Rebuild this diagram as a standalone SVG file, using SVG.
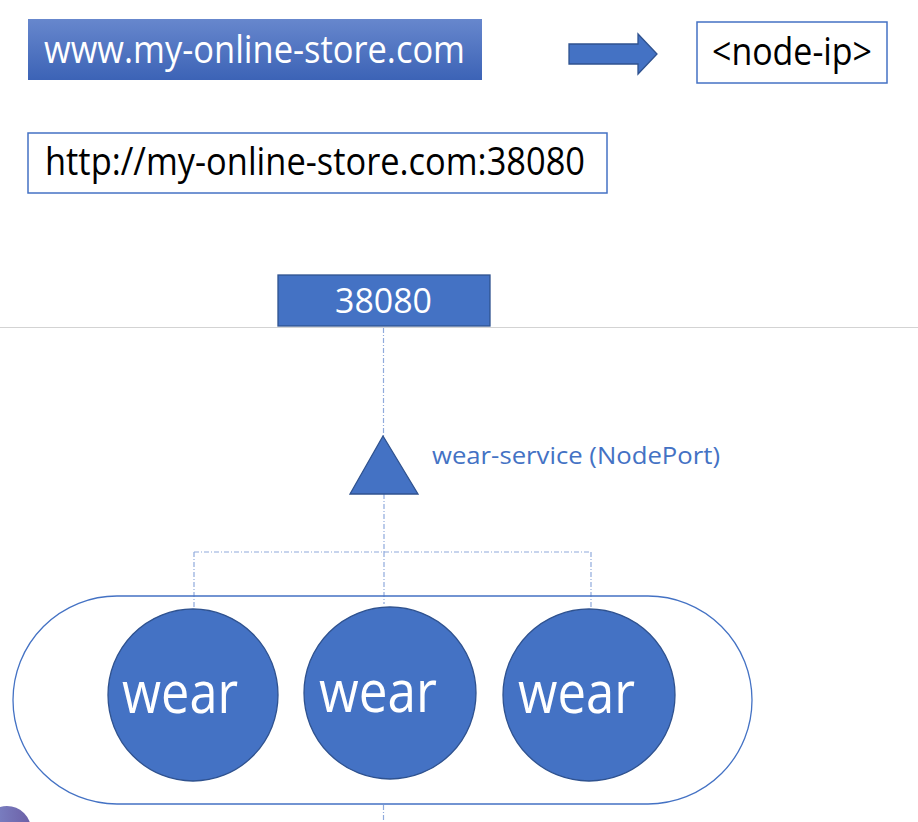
<svg xmlns="http://www.w3.org/2000/svg" width="918" height="822" viewBox="0 0 918 822">
<defs>
<linearGradient id="gBlue" x1="0" y1="0" x2="0" y2="1">
<stop offset="0" stop-color="#6787cd"/>
<stop offset="1" stop-color="#3c63b6"/>
</linearGradient>
<linearGradient id="gPurple" x1="0" y1="0" x2="1" y2="0">
<stop offset="0" stop-color="#7f8ccc"/>
<stop offset="1" stop-color="#6c5fa6"/>
</linearGradient>
</defs>
<style>
text{font-family:"Open Sans","Noto Sans","Liberation Sans",sans-serif}
.wt{fill:#ffffff}
.bk{fill:#000000}
.blue{fill:#4472C4;stroke:#2F528F;stroke-width:1.3}
.box{fill:#ffffff;stroke:#4472C4;stroke-width:1.5}
.dd{fill:none;stroke:#8FAADC;stroke-width:1.2;stroke-dasharray:5 2 1 2}
</style>
<rect width="918" height="822" fill="#ffffff"/>
<g id="domain">
<rect x="28" y="19" width="454" height="61" fill="url(#gBlue)"/>
<text class="wt" x="44" y="63" font-size="38" textLength="421" lengthAdjust="spacingAndGlyphs">www.my-online-store.com</text>
</g>
<g id="arrow">
<polygon class="blue" points="569,44 638,44 638,34 657,54 638,74 638,64 569,64"/>
</g>
<g id="node-ip">
<rect class="box" x="697" y="22" width="190" height="61"/>
<text class="bk" x="712" y="65" font-size="38" textLength="160" lengthAdjust="spacingAndGlyphs">&lt;node-ip&gt;</text>
</g>
<g id="url">
<rect class="box" x="28" y="133" width="579" height="60"/>
<text class="bk" x="45" y="175" font-size="38" textLength="540" lengthAdjust="spacingAndGlyphs">http://my-online-store.com:38080</text>
</g>
<line x1="0" y1="327.5" x2="918" y2="327.5" stroke="#d3d3d3" stroke-width="1.2"/>
<g id="port">
<rect class="blue" x="278" y="275" width="212" height="51"/>
<text class="wt" x="335" y="313" font-size="35" textLength="97" lengthAdjust="spacingAndGlyphs">38080</text>
</g>
<g id="connectors">
<line class="dd" x1="383.5" y1="328" x2="383.5" y2="436"/>
<line class="dd" x1="384" y1="494" x2="384" y2="552"/>
<line class="dd" x1="194" y1="552" x2="591" y2="552"/>
<line class="dd" x1="194" y1="552" x2="194" y2="609"/>
<line class="dd" x1="384" y1="552" x2="384" y2="604"/>
<line class="dd" x1="591" y1="552" x2="591" y2="609"/>
<line class="dd" x1="383.5" y1="805" x2="383.5" y2="822"/>
</g>
<g id="service">
<polygon class="blue" points="383,436 418,494 350,494"/>
<text x="432" y="464" font-size="24" fill="#4472C4" textLength="288" lengthAdjust="spacingAndGlyphs">wear-service (NodePort)</text>
</g>
<g id="replicaset">
<rect x="13" y="596" width="739" height="208" rx="104" ry="104" fill="none" stroke="#4472C4" stroke-width="1.3"/>
</g>
<g id="pod1">
<ellipse class="blue" cx="193" cy="695" rx="85" ry="86"/>
<text class="wt" x="122" y="713" font-size="58" textLength="116" lengthAdjust="spacingAndGlyphs">wear</text>
</g>
<g id="pod2">
<ellipse class="blue" cx="390" cy="693" rx="86" ry="86"/>
<text class="wt" x="319" y="712" font-size="58" textLength="118" lengthAdjust="spacingAndGlyphs">wear</text>
</g>
<g id="pod3">
<ellipse class="blue" cx="589" cy="695" rx="86" ry="86"/>
<text class="wt" x="518" y="713" font-size="58" textLength="117" lengthAdjust="spacingAndGlyphs">wear</text>
</g>
<g id="corner">
<circle cx="7" cy="830" r="24" fill="url(#gPurple)"/>
<circle cx="13" cy="836" r="13" fill="#ffffff"/>
</g>
</svg>
